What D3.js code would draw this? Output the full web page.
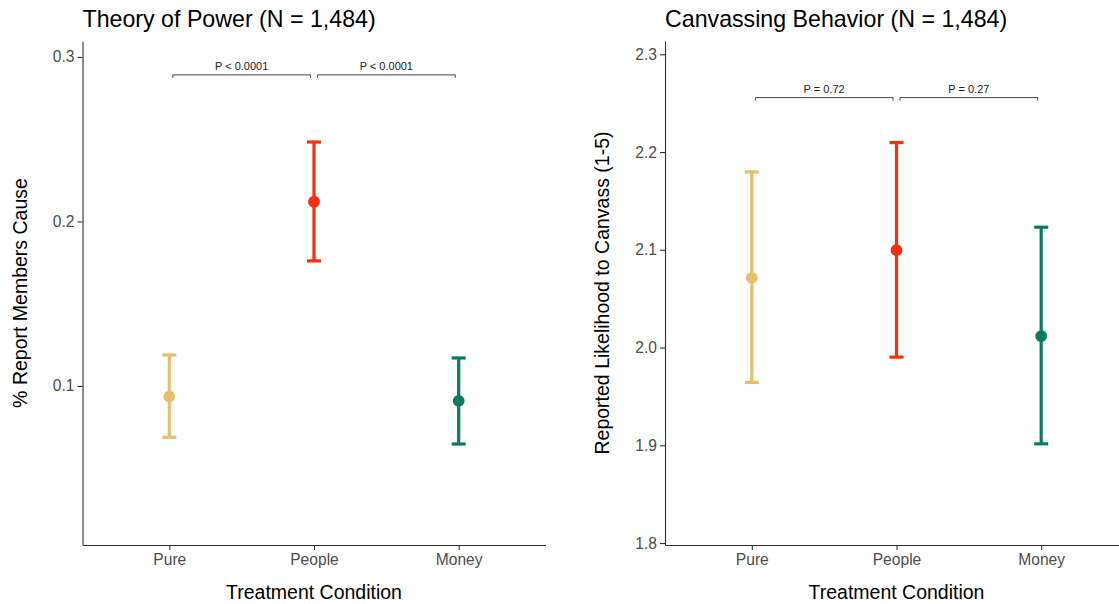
<!DOCTYPE html>
<html>
<head>
<meta charset="utf-8">
<script src="https://cdn.jsdelivr.net/npm/d3@7"></script>
<style>
  html, body { margin: 0; padding: 0; background: #fff; }
  svg { display: block; }
  text { font-family: "Liberation Sans", Arial, sans-serif; }
</style>
</head>
<body>
<svg id="chart" width="1119" height="604"></svg>
<script>
// Treatment conditions shared by both panels
const conditions = ["Pure", "People", "Money"];
const conditionColors = ["#E5BF6C", "#F4300F", "#0C7A5E"];

// Theory of Power: share reporting members as the cause (mean and 95% CI)
const powerMean = [0.0935, 0.2120, 0.0909];
const powerLow  = [0.0688, 0.1760, 0.0647];
const powerHigh = [0.1188, 0.2483, 0.1170];
const powerTicks = [0.1, 0.2, 0.3];
const powerPValues = ["P < 0.0001", "P < 0.0001"];

// Canvassing Behavior: reported likelihood to canvass, 1-5 scale
const canvassMean = [2.0713, 2.0996, 2.0117];
const canvassLow  = [1.9643, 1.9902, 1.9015];
const canvassHigh = [2.1797, 2.2097, 2.1231];
const canvassTicks = [1.8, 1.9, 2.0, 2.1, 2.2, 2.3];
const canvassPValues = ["P = 0.72", "P = 0.27"];

const svg = d3.select("#chart");

function drawPanel(opts) {
  const { left, width, top, bottom, domain, ticks, tickFormat,
          mean, low, high, pValues, bracketY, title, yTitle } = opts;

  const x = d3.scalePoint().domain(conditions).range([left, left + width]).padding(0.6);
  const y = d3.scaleLinear().domain(domain).range([bottom, top]);
  const g = svg.append("g");

  // y axis
  const yAxis = g.append("g")
    .attr("transform", `translate(${left},0)`)
    .call(d3.axisLeft(y).tickValues(ticks).tickFormat(tickFormat).tickSize(5).tickPadding(3).tickSizeOuter(0));
  yAxis.select(".domain").attr("stroke", "#333").attr("stroke-width", 1.1);
  yAxis.selectAll(".tick line").attr("stroke", "#333").attr("stroke-width", 1.1);
  yAxis.selectAll(".tick text").attr("fill", "#4D4D4D").style("font-size", "15.6px");

  // x axis
  const xAxis = g.append("g")
    .attr("transform", `translate(0,${bottom})`)
    .call(d3.axisBottom(x).tickSize(5).tickPadding(4).tickSizeOuter(0));
  xAxis.select(".domain").attr("stroke", "#333").attr("stroke-width", 1.1);
  xAxis.selectAll(".tick line").attr("stroke", "#333").attr("stroke-width", 1.1);
  xAxis.selectAll(".tick text").attr("fill", "#4D4D4D").style("font-size", "15.6px")
    .attr("dy", null).attr("y", 20);

  // confidence interval bars with caps
  const rows = conditions.map((c, i) => ({ c, m: mean[i], lo: low[i], hi: high[i], col: conditionColors[i] }));
  const bars = g.append("g").selectAll("g").data(rows).join("g");
  bars.append("line")
    .attr("x1", d => x(d.c)).attr("x2", d => x(d.c))
    .attr("y1", d => y(d.lo)).attr("y2", d => y(d.hi))
    .attr("stroke", d => d.col).attr("stroke-width", 3.2);
  ["lo", "hi"].forEach(k => {
    bars.append("line")
      .attr("x1", d => x(d.c) - 7).attr("x2", d => x(d.c) + 7)
      .attr("y1", d => y(d[k])).attr("y2", d => y(d[k]))
      .attr("stroke", d => d.col).attr("stroke-width", 3.2);
  });
  bars.append("circle")
    .attr("cx", d => x(d.c)).attr("cy", d => y(d.m)).attr("r", 5.9)
    .attr("fill", d => d.col);

  // significance brackets between adjacent conditions
  const pairs = [[0, 1], [1, 2]];
  const by = y(bracketY);
  const inset = 3.5, tip = 3;
  pairs.forEach(([a, b], i) => {
    const x1 = x(conditions[a]) + inset, x2 = x(conditions[b]) - inset;
    g.append("path")
      .attr("d", `M${x1},${by + tip}V${by}H${x2}V${by + tip}`)
      .attr("fill", "none").attr("stroke", "#444").attr("stroke-width", 1);
    g.append("text")
      .attr("x", (x(conditions[a]) + x(conditions[b])) / 2)
      .attr("y", by - 4.5)
      .attr("text-anchor", "middle")
      .attr("fill", "#222")
      .style("font-size", "11px")
      .text(pValues[i]);
  });

  // panel title
  g.append("text")
    .attr("x", left).attr("y", 27)
    .style("font-size", "23.2px").attr("fill", "#000")
    .text(title);

  // axis titles
  g.append("text")
    .attr("x", left + width / 2).attr("y", 599)
    .attr("text-anchor", "middle")
    .style("font-size", "19.5px").attr("fill", "#000")
    .text("Treatment Condition");
  g.append("text")
    .attr("transform", `translate(${left - 56},${(top + bottom) / 2}) rotate(-90)`)
    .attr("text-anchor", "middle")
    .style("font-size", "19.5px").attr("fill", "#000")
    .text(yTitle);
}

drawPanel({
  left: 82.5, width: 463, top: 41, bottom: 545,
  domain: [0.0033, 0.3097], ticks: powerTicks, tickFormat: d3.format(".1f"),
  mean: powerMean, low: powerLow, high: powerHigh,
  pValues: powerPValues, bracketY: 0.2891,
  title: "Theory of Power (N = 1,484)", yTitle: "% Report Members Cause"
});

drawPanel({
  left: 665, width: 463, top: 41, bottom: 545,
  domain: [1.798, 2.3136], ticks: canvassTicks, tickFormat: d3.format(".1f"),
  mean: canvassMean, low: canvassLow, high: canvassHigh,
  pValues: canvassPValues, bracketY: 2.2557,
  title: "Canvassing Behavior (N = 1,484)", yTitle: "Reported Likelihood to Canvass (1-5)"
});
</script>
</body>
</html>
